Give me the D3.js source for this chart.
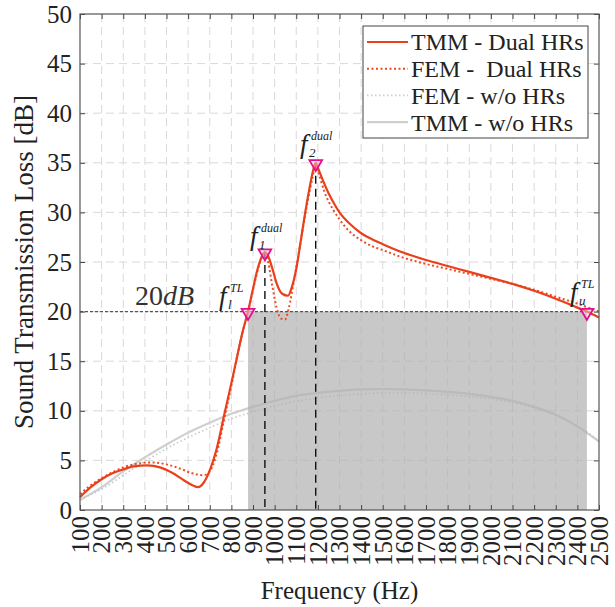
<!DOCTYPE html>
<html>
<head>
<meta charset="utf-8">
<script src="https://cdn.jsdelivr.net/npm/d3@7"></script>
<style>
  body { margin: 0; background: #fff; }
  svg text { font-family: "Liberation Serif", "Times New Roman", serif; fill: #222; }
</style>
</head>
<body>
<script>
'use strict';

// frequency ticks (Hz) and loss ticks (dB)
const freqTicks = d3.range(100, 2501, 100);
const lossTicks = [0, 5, 10, 15, 20, 25, 30, 35, 40, 45, 50];

// TMM - Dual HRs  [Hz, dB]
const tmmDual = [
  [100, 1.3], [150, 2.3], [200, 3.1], [250, 3.7], [300, 4.1], [350, 4.4], [410, 4.5],
  [470, 4.3], [530, 3.7], [580, 3.0], [620, 2.5], [646, 2.3], [670, 2.7], [700, 4.0],
  [730, 6.0], [770, 9.9], [800, 12.8], [826, 15.4], [850, 17.8], [877, 20.0], [900, 22.3],
  [920, 24.2], [940, 25.5], [955, 26.0], [970, 25.6], [990, 24.3], [1010, 22.8],
  [1035, 21.8], [1062, 21.6], [1080, 22.5], [1100, 24.3], [1120, 27.0], [1140, 29.8],
  [1160, 32.3], [1180, 34.4], [1190, 35.0], [1200, 34.5], [1220, 33.4], [1250, 31.9],
  [1280, 30.7], [1300, 30.0], [1350, 28.8], [1400, 27.9], [1450, 27.3], [1500, 26.8],
  [1600, 25.9], [1700, 25.2], [1800, 24.6], [1900, 24.0], [2000, 23.4], [2100, 22.8],
  [2200, 22.1], [2300, 21.3], [2400, 20.4], [2444, 20.0], [2500, 19.4]
];

// FEM - Dual HRs
const femDual = [
  [100, 1.6], [150, 2.5], [200, 3.2], [250, 3.8], [300, 4.3], [350, 4.6], [430, 4.8],
  [500, 4.6], [560, 4.2], [620, 3.7], [670, 3.5], [700, 3.9], [730, 5.5], [770, 9.5],
  [800, 12.5], [830, 15.8], [860, 18.6], [877, 20.0], [900, 22.2], [930, 24.8],
  [955, 26.0], [970, 25.0], [990, 22.5], [1010, 20.3], [1030, 19.3], [1048, 19.2],
  [1065, 20.3], [1090, 23.2], [1120, 27.0], [1150, 30.8], [1175, 33.5], [1190, 34.8],
  [1200, 34.2], [1230, 32.1], [1270, 30.3], [1300, 29.3], [1350, 28.0], [1400, 27.2],
  [1450, 26.6], [1500, 26.2], [1600, 25.4], [1700, 24.8], [1800, 24.3], [1900, 23.8],
  [2000, 23.3], [2100, 22.8], [2200, 22.2], [2300, 21.5], [2400, 20.8], [2500, 20.0]
];

// FEM - w/o HRs
const femNone = [
  [100, 1.1], [200, 2.1], [300, 3.5], [400, 4.9], [500, 6.2], [600, 7.3], [700, 8.3],
  [800, 9.2], [900, 9.9], [1000, 10.5], [1200, 11.3], [1400, 11.7], [1500, 11.8],
  [1600, 11.8], [1800, 11.6], [2000, 11.2], [2200, 10.3], [2300, 9.6], [2400, 8.5],
  [2500, 7.0]
];

// TMM - w/o HRs
const tmmNone = [
  [100, 1.0], [200, 2.3], [300, 3.9], [400, 5.3], [500, 6.6], [600, 7.8], [700, 8.8],
  [800, 9.7], [900, 10.4], [1000, 11.0], [1100, 11.5], [1200, 11.8], [1300, 12.0],
  [1400, 12.15], [1500, 12.2], [1600, 12.15], [1700, 12.05], [1800, 11.9], [1900, 11.7],
  [2000, 11.4], [2100, 11.0], [2200, 10.4], [2300, 9.6], [2400, 8.4], [2500, 6.9]
];

// marked frequencies: f_l^TL, f_1^dual, f_2^dual, f_u^TL
const markers = [[877, 20], [955, 26], [1190, 35], [2444, 20]];
const bandLimit = 20; // dB

const legendLabels = ["TMM - Dual HRs", "FEM -  Dual HRs", "FEM - w/o HRs", "TMM - w/o HRs"];

const W = 615, H = 607;
const m = { left: 80, top: 14, right: 599, bottom: 510 };

const svg = d3.select("body").append("svg").attr("width", W).attr("height", H);

const x = d3.scaleLinear().domain([100, 2500]).range([m.left, m.right]);
const y = d3.scaleLinear().domain([0, 50]).range([m.bottom, m.top]);

// grid
const grid = svg.append("g").attr("stroke", "#d9d9d9").attr("stroke-dasharray", "8,5").attr("stroke-width", 1);
grid.selectAll(".gx").data(freqTicks.slice(1, -1)).enter().append("line")
  .attr("x1", d => x(d)).attr("x2", d => x(d)).attr("y1", m.top).attr("y2", m.bottom);
grid.selectAll(".gy").data(lossTicks.slice(1, -1)).enter().append("line")
  .attr("y1", d => y(d)).attr("y2", d => y(d)).attr("x1", m.left).attr("x2", m.right);

const line = d3.line().x(d => x(d[0])).y(d => y(d[1])).curve(d3.curveMonotoneX);

// no-resonator curves
svg.append("path").datum(tmmNone).attr("d", line)
  .attr("fill", "none").attr("stroke", "#cfcfcf").attr("stroke-width", 2.2);
svg.append("path").datum(femNone).attr("d", line)
  .attr("fill", "none").attr("stroke", "#c8c8c8").attr("stroke-width", 1.6).attr("stroke-dasharray", "1.5,2.5");

// band above 20 dB
svg.append("rect")
  .attr("x", x(markers[0][0])).attr("y", y(bandLimit))
  .attr("width", x(markers[3][0]) - x(markers[0][0]))
  .attr("height", y(0) - y(bandLimit))
  .attr("fill", "#b0b0b0").attr("opacity", 0.7);

// 20 dB reference line
svg.append("line")
  .attr("x1", m.left).attr("x2", x(markers[3][0]))
  .attr("y1", y(bandLimit)).attr("y2", y(bandLimit))
  .attr("stroke", "#555").attr("stroke-width", 1.3).attr("stroke-dasharray", "3,2");

// vertical dashed lines at the two resonances
svg.selectAll(".vline").data(markers.slice(1, 3)).enter().append("line")
  .attr("x1", d => x(d[0])).attr("x2", d => x(d[0]))
  .attr("y1", d => y(d[1])).attr("y2", m.bottom)
  .attr("stroke", "#111").attr("stroke-width", 1.4).attr("stroke-dasharray", "8,5");

// dual-resonator curves
svg.append("path").datum(femDual).attr("d", line)
  .attr("fill", "none").attr("stroke", "#ee4a1e").attr("stroke-width", 2).attr("stroke-dasharray", "2,2.5");
svg.append("path").datum(tmmDual).attr("d", line)
  .attr("fill", "none").attr("stroke", "#e8401c").attr("stroke-width", 2.2);

// triangle markers
const tri = d3.symbol().type(d3.symbolTriangle).size(70);
svg.selectAll(".mk").data(markers).enter().append("path")
  .attr("d", tri)
  .attr("transform", d => `translate(${x(d[0])},${y(d[1]) + 1}) rotate(180)`)
  .attr("fill", "#f8c0dc").attr("fill-opacity", 0.5)
  .attr("stroke", "#e0108a").attr("stroke-width", 1.8);

// annotations
const ann = svg.append("g");
const t20 = ann.append("text").attr("x", 135).attr("y", 305).attr("font-size", 28).style("fill", "#333");
t20.append("tspan").text("20");
t20.append("tspan").attr("font-style", "italic").text("dB");

function fLabel(px, py, sub, sup) {
  const g = ann.append("g").attr("transform", `translate(${px},${py})`);
  g.append("text").attr("font-size", 27).attr("font-style", "italic").text("f");
  g.append("text").attr("x", 9).attr("y", 4).attr("font-size", 13).attr("font-style", "italic").text(sub);
  g.append("text").attr("x", 11).attr("y", -13).attr("font-size", 12).attr("font-style", "italic").text(sup);
}
fLabel(219, 305, "l", "TL");
fLabel(250, 245, "1", "dual");
fLabel(300, 153, "2", "dual");
fLabel(570, 301, "u", "TL");

// axes
const axB = svg.append("g").attr("transform", `translate(0,${m.bottom})`)
  .call(d3.axisBottom(x).tickValues(freqTicks).tickSizeInner(-5).tickSizeOuter(0).tickFormat(d3.format("d")));
axB.selectAll("text")
  .attr("transform", "rotate(-90)")
  .attr("text-anchor", "end")
  .attr("x", -6).attr("y", 0).attr("dy", "0.33em")
  .attr("font-size", 25);
const axT = svg.append("g").attr("transform", `translate(0,${m.top})`)
  .call(d3.axisTop(x).tickValues(freqTicks).tickSizeInner(-5).tickSizeOuter(0).tickFormat(""));
const axL = svg.append("g").attr("transform", `translate(${m.left},0)`)
  .call(d3.axisLeft(y).tickValues(lossTicks).tickSizeInner(-5).tickSizeOuter(0).tickPadding(8));
axL.selectAll("text").attr("font-size", 25);
const axR = svg.append("g").attr("transform", `translate(${m.right},0)`)
  .call(d3.axisRight(y).tickValues(lossTicks).tickSizeInner(-5).tickSizeOuter(0).tickFormat(""));

[axB, axT, axL, axR].forEach(a => {
  a.attr("font-family", null);
  a.select(".domain").remove();
  a.selectAll("line").attr("stroke", "#444");
  a.selectAll("text").style("fill", "#222");
});

svg.append("rect")
  .attr("x", m.left).attr("y", m.top)
  .attr("width", m.right - m.left).attr("height", m.bottom - m.top)
  .attr("fill", "none").attr("stroke", "#555").attr("stroke-width", 1.2);

// axis titles
svg.append("text")
  .attr("x", (m.left + m.right) / 2).attr("y", 599)
  .attr("text-anchor", "middle").attr("font-size", 25)
  .text("Frequency (Hz)");
svg.append("text")
  .attr("transform", `translate(33,${(m.top + m.bottom) / 2}) rotate(-90)`)
  .attr("text-anchor", "middle").attr("font-size", 27)
  .text("Sound Transmission Loss [dB]");

// legend
const leg = svg.append("g");
leg.append("rect").attr("x", 363).attr("y", 26).attr("width", 225).attr("height", 112)
  .attr("fill", "#fff").attr("stroke", "#444").attr("stroke-width", 1);
const legStyles = [
  { stroke: "#e8401c", width: 2.2, dash: null },
  { stroke: "#ee4a1e", width: 2, dash: "2,2.5" },
  { stroke: "#cdcdcd", width: 1.6, dash: "1.5,2.5" },
  { stroke: "#cfcfcf", width: 2.2, dash: null }
];
legendLabels.forEach((lab, i) => {
  const ly = 42 + i * 26.7;
  leg.append("line").attr("x1", 367).attr("x2", 408).attr("y1", ly).attr("y2", ly)
    .attr("stroke", legStyles[i].stroke).attr("stroke-width", legStyles[i].width)
    .attr("stroke-dasharray", legStyles[i].dash);
  leg.append("text").attr("x", 411).attr("y", ly).attr("dy", "0.35em")
    .attr("font-size", 24).style("white-space", "pre").text(lab);
});
</script>
</body>
</html>
